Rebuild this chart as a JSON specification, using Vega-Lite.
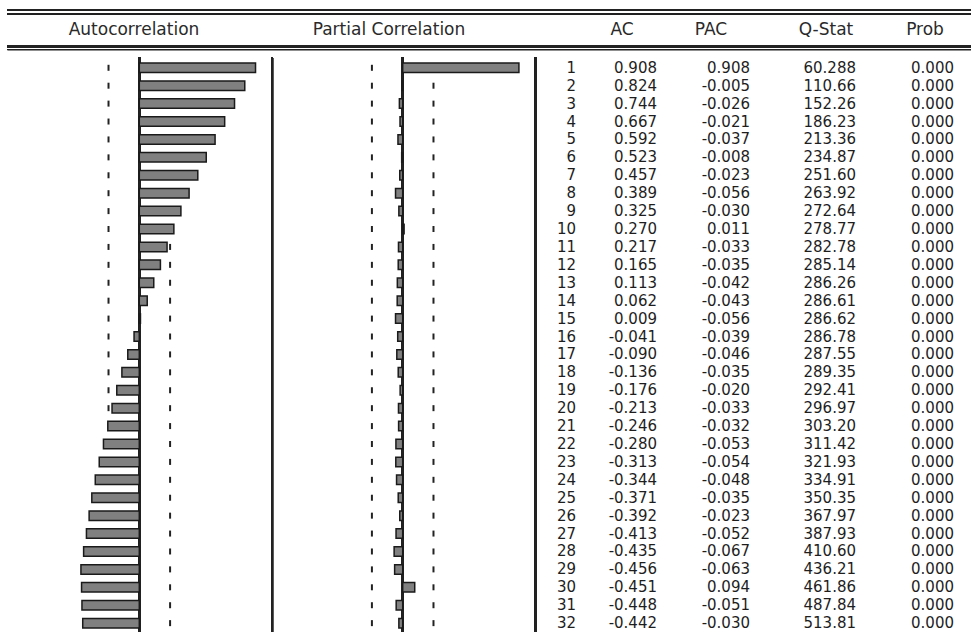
{
  "$schema": "https://vega.github.io/schema/vega-lite/v6.json",
  "width": 971,
  "height": 637,
  "padding": 0,
  "autosize": {"type": "none"},
  "background": "white",
  "config": {
    "view": {"stroke": null},
    "locale": {"number": {"decimal": ".", "thousands": ",", "grouping": [3], "currency": ["", ""], "minus": "-"}},
    "text": {"font": "DejaVu Sans", "fontSize": 15, "fill": "#1e1e1e"}
  },
  "datasets": {
    "corr": [
      {"lag": 1, "ac": 0.908, "pac": 0.908, "q": 60.288, "prob": 0.000},
      {"lag": 2, "ac": 0.824, "pac": -0.005, "q": 110.66, "prob": 0.000},
      {"lag": 3, "ac": 0.744, "pac": -0.026, "q": 152.26, "prob": 0.000},
      {"lag": 4, "ac": 0.667, "pac": -0.021, "q": 186.23, "prob": 0.000},
      {"lag": 5, "ac": 0.592, "pac": -0.037, "q": 213.36, "prob": 0.000},
      {"lag": 6, "ac": 0.523, "pac": -0.008, "q": 234.87, "prob": 0.000},
      {"lag": 7, "ac": 0.457, "pac": -0.023, "q": 251.60, "prob": 0.000},
      {"lag": 8, "ac": 0.389, "pac": -0.056, "q": 263.92, "prob": 0.000},
      {"lag": 9, "ac": 0.325, "pac": -0.030, "q": 272.64, "prob": 0.000},
      {"lag": 10, "ac": 0.270, "pac": 0.011, "q": 278.77, "prob": 0.000},
      {"lag": 11, "ac": 0.217, "pac": -0.033, "q": 282.78, "prob": 0.000},
      {"lag": 12, "ac": 0.165, "pac": -0.035, "q": 285.14, "prob": 0.000},
      {"lag": 13, "ac": 0.113, "pac": -0.042, "q": 286.26, "prob": 0.000},
      {"lag": 14, "ac": 0.062, "pac": -0.043, "q": 286.61, "prob": 0.000},
      {"lag": 15, "ac": 0.009, "pac": -0.056, "q": 286.62, "prob": 0.000},
      {"lag": 16, "ac": -0.041, "pac": -0.039, "q": 286.78, "prob": 0.000},
      {"lag": 17, "ac": -0.090, "pac": -0.046, "q": 287.55, "prob": 0.000},
      {"lag": 18, "ac": -0.136, "pac": -0.035, "q": 289.35, "prob": 0.000},
      {"lag": 19, "ac": -0.176, "pac": -0.020, "q": 292.41, "prob": 0.000},
      {"lag": 20, "ac": -0.213, "pac": -0.033, "q": 296.97, "prob": 0.000},
      {"lag": 21, "ac": -0.246, "pac": -0.032, "q": 303.20, "prob": 0.000},
      {"lag": 22, "ac": -0.280, "pac": -0.053, "q": 311.42, "prob": 0.000},
      {"lag": 23, "ac": -0.313, "pac": -0.054, "q": 321.93, "prob": 0.000},
      {"lag": 24, "ac": -0.344, "pac": -0.048, "q": 334.91, "prob": 0.000},
      {"lag": 25, "ac": -0.371, "pac": -0.035, "q": 350.35, "prob": 0.000},
      {"lag": 26, "ac": -0.392, "pac": -0.023, "q": 367.97, "prob": 0.000},
      {"lag": 27, "ac": -0.413, "pac": -0.052, "q": 387.93, "prob": 0.000},
      {"lag": 28, "ac": -0.435, "pac": -0.067, "q": 410.60, "prob": 0.000},
      {"lag": 29, "ac": -0.456, "pac": -0.063, "q": 436.21, "prob": 0.000},
      {"lag": 30, "ac": -0.451, "pac": 0.094, "q": 461.86, "prob": 0.000},
      {"lag": 31, "ac": -0.448, "pac": -0.051, "q": 487.84, "prob": 0.000},
      {"lag": 32, "ac": -0.442, "pac": -0.030, "q": 513.81, "prob": 0.000}
    ]
  },
  "encoding": {
    "y": {"type": "quantitative", "axis": null, "scale": {"domain": [-2.505, 32.495], "range": [0, 637], "nice": false, "zero": false}}
  },
  "resolve": {"scale": {"x": "independent"}},
  "layer": [
    {
      "data": {"name": "corr"},
      "encoding": {
        "x": {"type": "quantitative", "axis": null, "scale": {"domain": [-1, 1], "range": [11.3, 267.3], "nice": false, "zero": false}}
      },
      "layer": [
        {
          "mark": {"type": "rule", "stroke": "#222", "strokeWidth": 2},
          "encoding": {"x": {"datum": -1.03}, "x2": {"datum": 6.5}, "y": {"datum": -2.22}}
        },
        {
          "mark": {"type": "rule", "stroke": "#222", "strokeWidth": 1},
          "encoding": {"x": {"datum": -1.03}, "x2": {"datum": 6.5}, "y": {"datum": -2.02}}
        },
        {
          "mark": {"type": "rule", "stroke": "#222", "strokeWidth": 2},
          "encoding": {"x": {"datum": -1.03}, "x2": {"datum": 6.5}, "y": {"datum": -0.19}}
        },
        {
          "mark": {"type": "rule", "stroke": "#222", "strokeWidth": 1},
          "encoding": {"x": {"datum": -1.03}, "x2": {"datum": 6.5}, "y": {"datum": -0.02}}
        },
        {
          "mark": {"type": "tick", "orient": "vertical", "size": 6, "thickness": 2, "color": "#222", "opacity": 1},
          "encoding": {"x": {"datum": -0.2405}, "y": {"field": "lag", "type": "quantitative"}}
        },
        {
          "mark": {"type": "tick", "orient": "vertical", "size": 6, "thickness": 2, "color": "#222", "opacity": 1},
          "encoding": {"x": {"datum": 0.2405}, "y": {"field": "lag", "type": "quantitative"}}
        },
        {
          "mark": {"type": "rule", "stroke": "#222", "strokeWidth": 2},
          "encoding": {"x": {"datum": 0}, "y": {"datum": 0.407}, "y2": {"datum": 32.495}}
        },
        {
          "mark": {"type": "rule", "stroke": "#222", "strokeWidth": 2},
          "encoding": {"x": {"datum": 1.037}, "y": {"datum": 0.407}, "y2": {"datum": 32.495}}
        },
        {
          "mark": {"type": "bar", "orient": "horizontal", "size": 9.5, "fill": "#808080", "stroke": "#1a1a1a", "strokeWidth": 1.5},
          "encoding": {"x": {"field": "ac", "type": "quantitative"}, "x2": {"datum": 0}, "y": {"field": "lag", "type": "quantitative"}}
        }
      ]
    },
    {
      "data": {"name": "corr"},
      "encoding": {
        "x": {"type": "quantitative", "axis": null, "scale": {"domain": [-1, 1], "range": [274.7, 530.7], "nice": false, "zero": false}}
      },
      "layer": [
        {
          "mark": {"type": "tick", "orient": "vertical", "size": 6, "thickness": 2, "color": "#222", "opacity": 1},
          "encoding": {"x": {"datum": -0.2405}, "y": {"field": "lag", "type": "quantitative"}}
        },
        {
          "mark": {"type": "tick", "orient": "vertical", "size": 6, "thickness": 2, "color": "#222", "opacity": 1},
          "encoding": {"x": {"datum": 0.2405}, "y": {"field": "lag", "type": "quantitative"}}
        },
        {
          "mark": {"type": "rule", "stroke": "#222", "strokeWidth": 2},
          "encoding": {"x": {"datum": 0}, "y": {"datum": 0.407}, "y2": {"datum": 32.495}}
        },
        {
          "mark": {"type": "rule", "stroke": "#222", "strokeWidth": 2},
          "encoding": {"x": {"datum": 1.039}, "y": {"datum": 0.407}, "y2": {"datum": 32.495}}
        },
        {
          "mark": {"type": "bar", "orient": "horizontal", "size": 9.5, "fill": "#808080", "stroke": "#1a1a1a", "strokeWidth": 1.5},
          "encoding": {"x": {"field": "pac", "type": "quantitative"}, "x2": {"datum": 0}, "y": {"field": "lag", "type": "quantitative"}}
        }
      ]
    },
    {
      "data": {"name": "corr"},
      "encoding": {
        "x": {"type": "quantitative", "axis": null, "scale": {"domain": [0, 1, 2, 3, 4], "range": [576, 657, 750, 856, 954], "nice": false, "zero": false}},
        "y": {"field": "lag", "type": "quantitative"}
      },
      "layer": [
        {"mark": {"type": "text", "align": "right", "baseline": "middle"}, "encoding": {"x": {"datum": 0}, "text": {"field": "lag", "type": "quantitative", "format": "d"}}},
        {"mark": {"type": "text", "align": "right", "baseline": "middle"}, "encoding": {"x": {"datum": 1}, "text": {"field": "ac", "type": "quantitative", "format": ".3f"}}},
        {"mark": {"type": "text", "align": "right", "baseline": "middle"}, "encoding": {"x": {"datum": 2}, "text": {"field": "pac", "type": "quantitative", "format": ".3f"}}},
        {"mark": {"type": "text", "align": "right", "baseline": "middle"}, "encoding": {"x": {"datum": 3}, "text": {"field": "q", "type": "quantitative", "format": ".5r"}}},
        {"mark": {"type": "text", "align": "right", "baseline": "middle"}, "encoding": {"x": {"datum": 4}, "text": {"field": "prob", "type": "quantitative", "format": ".3f"}}}
      ]
    },
    {
      "data": {"values": [{}]},
      "encoding": {
        "x": {"type": "quantitative", "axis": null, "scale": {"domain": [0, 1, 2, 3, 4, 5], "range": [134, 389, 622, 711, 826, 925], "nice": false, "zero": false}},
        "y": {"datum": -1.104}
      },
      "layer": [
        {"mark": {"type": "text", "align": "center", "baseline": "middle", "fontSize": 17, "fill": "#2a2a2a", "text": "Autocorrelation"}, "encoding": {"x": {"datum": 0}}},
        {"mark": {"type": "text", "align": "center", "baseline": "middle", "fontSize": 17, "fill": "#2a2a2a", "text": "Partial Correlation"}, "encoding": {"x": {"datum": 1}}},
        {"mark": {"type": "text", "align": "center", "baseline": "middle", "fontSize": 17, "fill": "#2a2a2a", "text": "AC"}, "encoding": {"x": {"datum": 2}}},
        {"mark": {"type": "text", "align": "center", "baseline": "middle", "fontSize": 17, "fill": "#2a2a2a", "text": "PAC"}, "encoding": {"x": {"datum": 3}}},
        {"mark": {"type": "text", "align": "center", "baseline": "middle", "fontSize": 17, "fill": "#2a2a2a", "text": "Q-Stat"}, "encoding": {"x": {"datum": 4}}},
        {"mark": {"type": "text", "align": "center", "baseline": "middle", "fontSize": 17, "fill": "#2a2a2a", "text": "Prob"}, "encoding": {"x": {"datum": 5}}}
      ]
    }
  ]
}
